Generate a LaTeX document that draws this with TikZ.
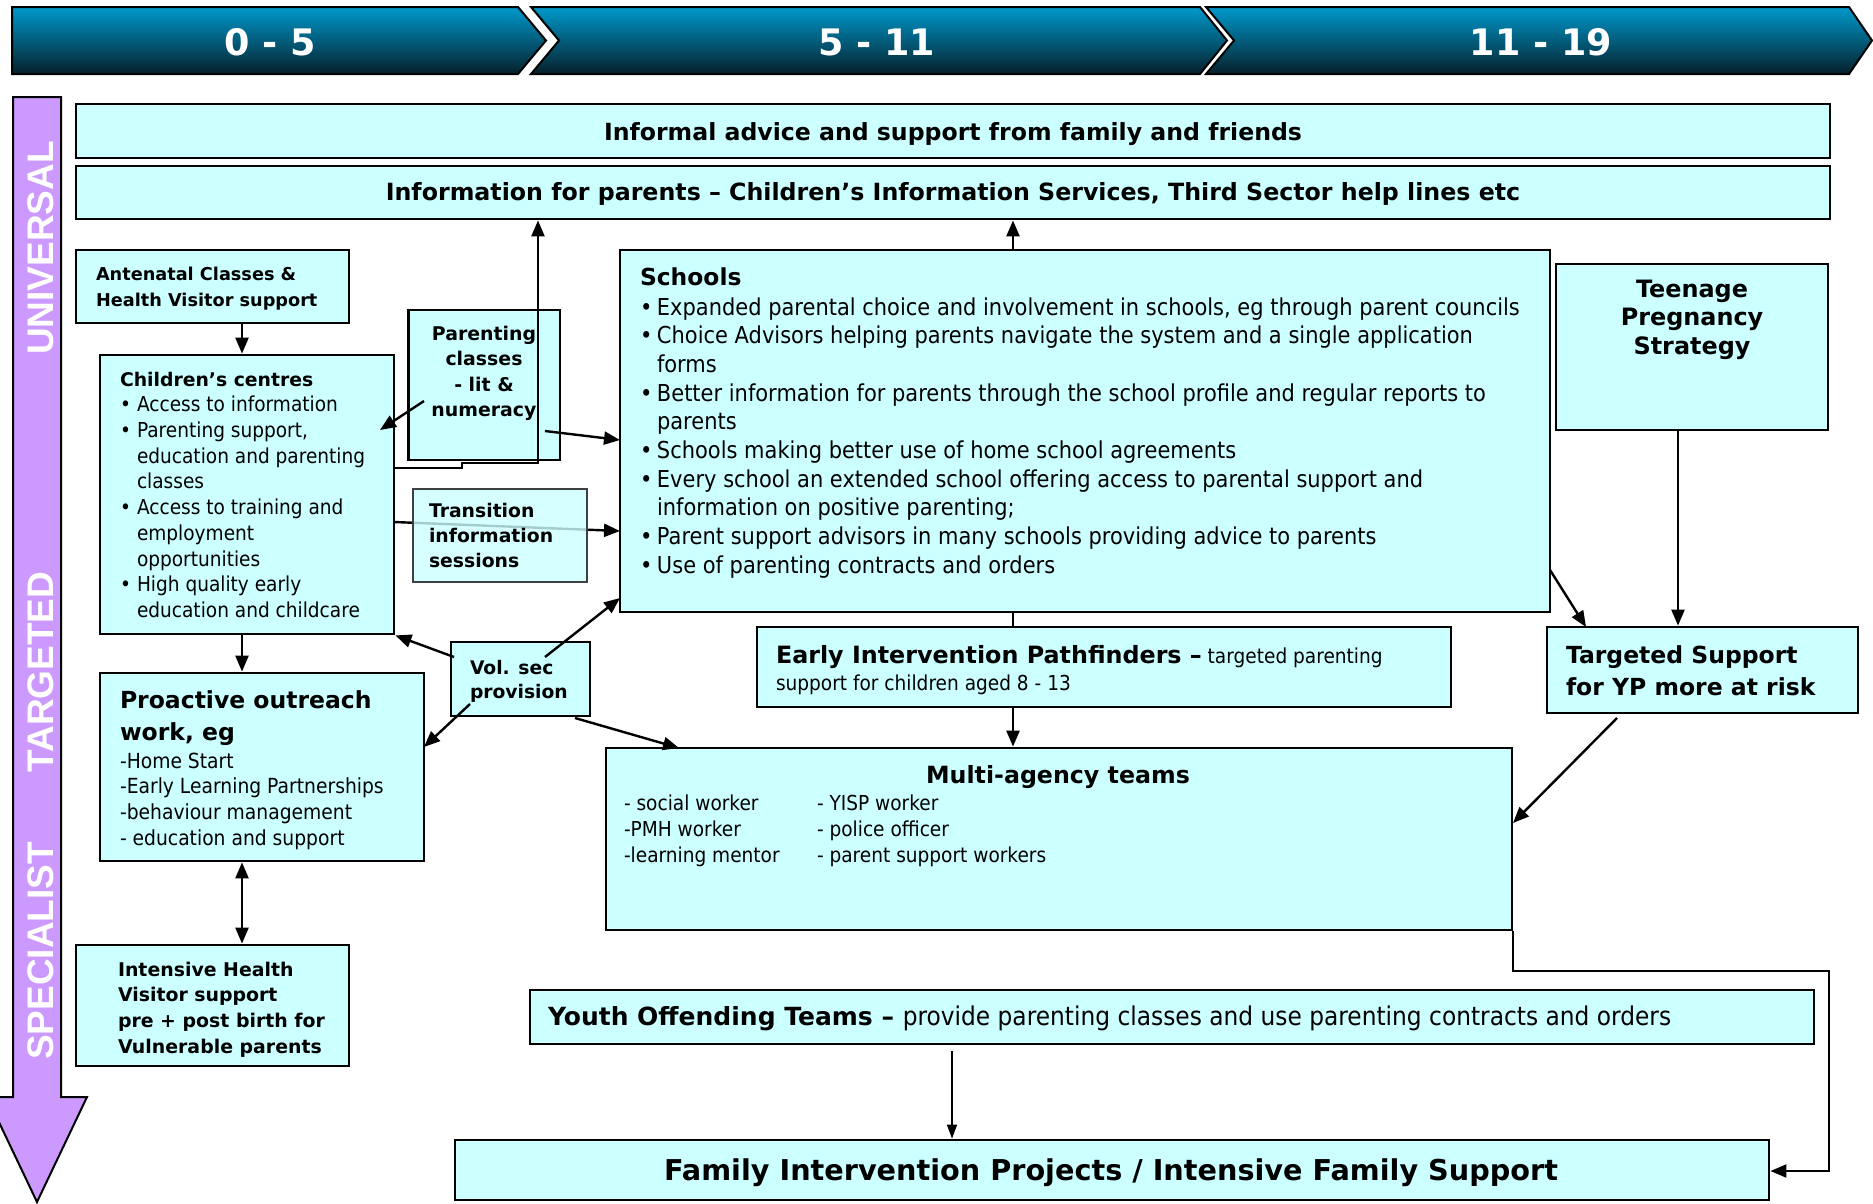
\documentclass[tikz,border=0pt]{standalone}
\usepackage{fontspec}
\setmainfont{DejaVu Sans}
\newfontfamily\rgf{DejaVu Sans}[FakeStretch=0.9]
\newfontfamily\arialb{Liberation Sans}
\usetikzlibrary{arrows.meta,fit}
\definecolor{boxfill}{HTML}{CCFFFF}
\definecolor{purp}{HTML}{CC99FF}
\definecolor{hdrtop}{HTML}{0099CC}
\definecolor{hdrbot}{HTML}{06202B}
\newcommand\mybf{\normalfont\bfseries}
\newcommand\fsz[2]{\fontsize{#1}{#2}\selectfont}
\newcommand\mytl[1]{\begin{tabular}[t]{@{}l@{}}#1\end{tabular}}
\newcommand\mytc[1]{\begin{tabular}[t]{@{}c@{}}#1\end{tabular}}
\newcommand\mybul{\makebox[14pt][l]{\kern-3pt•}}
\newcommand\myind{\hspace*{14pt}}
\tikzset{
  box/.style={draw=black, line width=2.8pt, fill=boxfill, inner sep=0pt},
  txt/.style={inner sep=0pt, outer sep=0pt, text=black},
  hdr/.style={top color=hdrtop, bottom color=hdrbot, draw=black, line width=2pt},
  lnk/.style={line width=2.4pt},
  conn/.style={line width=2.4pt, -{Triangle[length=16pt,width=13pt]}},
  conntwo/.style={line width=2.4pt, {Triangle[length=16pt,width=13pt]}-{Triangle[length=16pt,width=13pt]}},
  connthin/.style={line width=1.6pt, -{Triangle[length=14pt,width=10pt]}},
}
\begin{document}
\begin{tikzpicture}[x=1pt,y=-1pt]
\useasboundingbox (0,0) rectangle (1873,1203);
\fill[white] (0,0) rectangle (1873,1203);

% header chevrons
\shadedraw[hdr] (12,7) -- (518,7) -- (546,40.5) -- (518,74) -- (12,74) -- cycle;
\shadedraw[hdr] (531,7) -- (1200,7) -- (1227,40.5) -- (1200,74) -- (531,74) -- (559,40.5) -- cycle;
\shadedraw[hdr] (1206,7) -- (1849,7) -- (1872,40.5) -- (1849,74) -- (1206,74) -- (1234,40.5) -- cycle;
\node[txt, text=white, anchor=base] (h1) at (270,55) {\mybf\fsz{36.5}{40}0 - 5};
\node[txt, text=white, anchor=base] (h2) at (877,55) {\mybf\fsz{36.5}{40}5 - 11};
\node[txt, text=white, anchor=base] (h3) at (1541,55) {\mybf\fsz{36.5}{40}11 - 19};

% purple arrow
\draw[fill=purp, line width=2pt] (13,97) -- (61,97) -- (61,1097) -- (87,1097) -- (37,1202) -- (-13,1097) -- (13,1097) -- cycle;
\node[txt, rotate=90, text=white] (uni) at (41,248) {\arialb\bfseries\fsz{37}{40}UNIVERSAL};
\node[txt, rotate=90, text=white] (tar) at (41,672) {\arialb\bfseries\fsz{37}{40}TARGETED};
\node[txt, rotate=90, text=white] (spe) at (41,951) {\arialb\bfseries\fsz{37}{40}SPECIALIST};

% boxes
\node[box, fit={(76,104) (1830,158)}] (inf) {};
\node[box, fit={(76,166) (1830,219)}] (info) {};
\node[box, fit={(76,250) (349,323)}] (ante) {};
\node[box, fit={(100,355) (394,634)}] (cc) {};
\node[box, fit={(408.5,310) (560,460)}] (pc) {};
\node[box, fit={(620,250) (1550,612)}] (sch) {};
\node[box, fit={(1556,264) (1828,430)}] (tps) {};
\node[box, fit={(1547,627) (1858,713)}] (ts) {};
\node[box, fit={(757,627) (1451,707)}] (eip) {};
\node[box, fit={(451,642) (590,716)}] (vol) {};
\node[box, fit={(100,673) (424,861)}] (pro) {};
\node[box, fit={(76,945) (349,1066)}] (ihv) {};
\node[box, fit={(606,748) (1512,930)}] (mat) {};
\node[box, fit={(530,990) (1814,1044)}] (yot) {};
\node[box, fit={(455,1140) (1769,1200)}] (fip) {};

% texts
\node[txt, anchor=base] (infT) at (953,140.5) {\mybf\fsz{23.6}{28}Informal advice and support from family and friends};
\node[txt, anchor=base] (infoT) at (953,200.5) {\mybf\fsz{23.7}{28}Information for parents – Children’s Information Services, Third Sector help lines etc};
\node[txt, anchor=base west] (anteT) at (96,280) {\mybf\fsz{17.7}{26}\mytl{Antenatal Classes \&\\Health Visitor support}};
\node[txt, anchor=base west] (ccT) at (120,386) {\mybf\fsz{18.8}{25}Children’s centres};
\node[txt, anchor=base west] (ccL) at (123,411.5) {\rgf\fsz{20.6}{25.75}\mytl{\mybul Access to information\\ \mybul Parenting support,\\ \myind education and parenting\\ \myind classes\\ \mybul Access to training and\\ \myind employment\\ \myind opportunities\\ \mybul High quality early\\ \myind education and childcare}};
\node[txt, anchor=base] (pcT) at (484,340) {\mybf\fsz{18.9}{25.6}\mytc{Parenting\\classes\\- lit \&\\numeracy}};
\node[txt, anchor=base west] (schT) at (640,285) {\mybf\fsz{23.4}{28}Schools};
\node[txt, anchor=base west] (schL) at (643,315) {\rgf\fsz{23.3}{28.7}\mytl{\mybul Expanded parental choice and involvement in schools, eg through parent councils\\ \mybul Choice Advisors helping parents navigate the system and a single application\\ \myind forms\\ \mybul Better information for parents through the school profile and regular reports to\\ \myind parents\\ \mybul Schools making better use of home school agreements\\ \mybul Every school an extended school offering access to parental support and\\ \myind information on positive parenting;\\ \mybul Parent support advisors in many schools providing advice to parents\\ \mybul Use of parenting contracts and orders}};
\node[txt, anchor=base] (tpsT) at (1692,297) {\mybf\fsz{23.9}{28.5}\mytc{Teenage\\Pregnancy\\Strategy}};
\node[txt, anchor=base west] (tsT) at (1566,663) {\mybf\fsz{23.5}{32}\mytl{Targeted Support\\for YP more at risk}};
\node[txt, anchor=base west] (eipT) at (776,663.5) {\rgf\fsz{20.6}{27}\mytl{{\mybf\fsz{23.8}{27}Early Intervention Pathfinders –} targeted parenting\\support for children aged 8 - 13}};
\node[txt, anchor=base west] (volT) at (470,674) {\mybf\fsz{18.7}{24}\mytl{Vol. sec\\provision}};
\node[txt, anchor=base west] (proT) at (120,708.5) {\mybf\fsz{23.5}{31.5}\mytl{Proactive outreach\\work, eg}};
\node[txt, anchor=base west] (proL) at (120,768) {\rgf\fsz{20.8}{25.7}\mytl{-Home Start\\-Early Learning Partnerships\\-behaviour management\\- education and support}};
\node[txt, anchor=base west] (ihvT) at (118,976) {\mybf\fsz{18.9}{25.7}\mytl{Intensive Health\\Visitor support\\pre + post birth for\\Vulnerable parents}};
\node[txt, anchor=base] (matT) at (1058,783.5) {\mybf\fsz{23.7}{28}Multi-agency teams};
\node[txt, anchor=base west] (matL) at (624,810) {\rgf\fsz{20.6}{26}\mytl{- social worker\\-PMH worker\\-learning mentor}};
\node[txt, anchor=base west] (matR) at (817,810) {\rgf\fsz{20.6}{26}\mytl{- YISP worker\\- police officer\\- parent support workers}};
\node[txt, anchor=base west] (yotT) at (548,1025) {\mybf\fsz{25}{28}Youth Offending Teams – {\rgf\mdseries\fsz{25.9}{28}provide parenting classes and use parenting contracts and orders}};
\node[txt, anchor=base] (fipT) at (1111,1180) {\mybf\fsz{28.7}{32}Family Intervention Projects / Intensive Family Support};

% connectors
\coordinate (xl) at (242,0);
\coordinate (xs) at (1013,0);
\coordinate (xt) at (1678,0);
\coordinate (xp) at (538,0);
\coordinate (xy) at (952,0);

\coordinate (ccB) at (394,522); \coordinate (schB) at (620,531);
\draw[conn] (ccB) -- (schB);
\node[box, fill opacity=0.8, draw=black!75, line width=2.4pt, fit={(413,489) (587,582)}] (tr) {};
\node[txt, anchor=base west] (trT) at (429,517) {\mybf\fsz{18.8}{25}\mytl{Transition\\information\\sessions}};

\draw[conn] (ante.south -| xl) -- (cc.north -| xl);
\draw[conn] (cc.south -| xl) -- (pro.north -| xl);
\draw[conntwo] (pro.south -| xl) -- (ihv.north -| xl);
\coordinate (pcA) at (424,401); \coordinate (ccA) at (380,430);
\draw[conn] (pcA) -- (ccA);
\coordinate (pcB) at (545,431); \coordinate (schA) at (620,440);
\draw[conn] (pcB) -- (schA);
\coordinate (ccC) at (394,468);
\draw[conn] (ccC) -- (462,468) -- (462,463) -- (538,463) -- (info.south -| xp);
\draw[conn] (sch.north -| xs) -- (info.south -| xs);
\draw[lnk] (sch.south -| xs) -- (eip.north -| xs);
\draw[conn] (eip.south -| xs) -- (mat.north -| xs);
\coordinate (volA) at (454,657);
\draw[conn] (volA) -- (cc.south east);
\coordinate (volB) at (545,657); \coordinate (schC) at (620,598);
\draw[conn] (volB) -- (schC);
\coordinate (volC) at (470,704); \coordinate (proA) at (424,747);
\draw[conn] (volC) -- (proA);
\coordinate (volD) at (575,718); \coordinate (matA) at (679,748);
\draw[conn] (volD) -- (matA);
\coordinate (schD) at (1550,570); \coordinate (tsA) at (1586,627);
\draw[conn] (schD) -- (tsA);
\draw[conn] (tps.south -| xt) -- (ts.north -| xt);
\coordinate (tsB) at (1617,718); \coordinate (matB) at (1513,823);
\draw[conn] (tsB) -- (matB);
\coordinate (rt) at (1829,1171);
\draw[conn, line width=2pt] (mat.south east) -- ++(0,40) -| (rt) -- (fip.east |- rt);
\coordinate (yotS) at (952,1051);
\draw[connthin] (yotS) -- (fip.north -| xy);
\end{tikzpicture}
\end{document}
